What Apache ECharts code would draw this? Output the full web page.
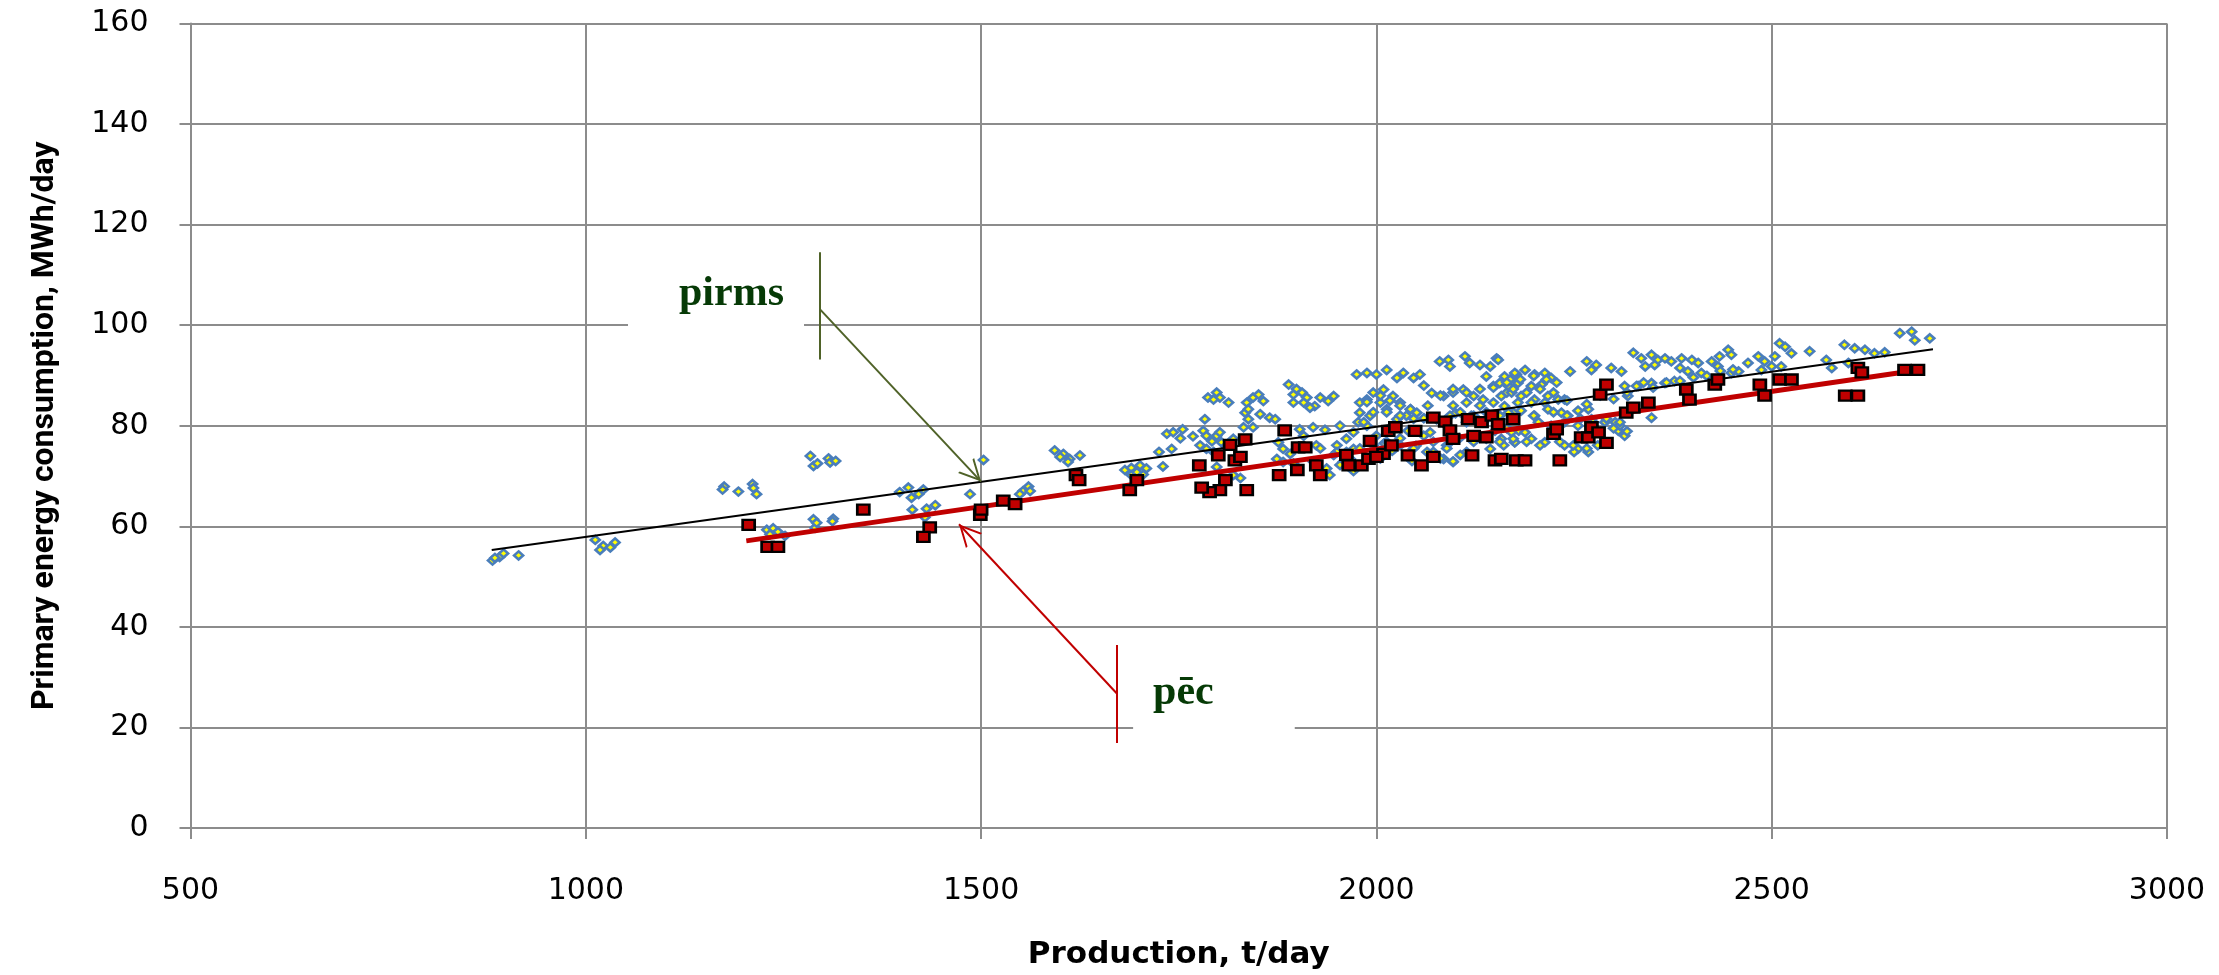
<!DOCTYPE html>
<html>
<head>
<meta charset="utf-8">
<script src="https://cdn.jsdelivr.net/npm/echarts@6/dist/echarts.min.js"></script>
<style>
html,body{margin:0;padding:0;background:#fff;}
#chart{width:2219px;height:975px;}
</style>
</head>
<body>
<div id="chart"></div>
<script>
// ---- axis settings / labels ----
const xAxisTitle = 'Production, t/day';
const yAxisTitle = 'Primary energy consumption, MWh/day';
const xRange = [500, 3000, 500];
const yRange = [0, 160, 20];

// ---- "pirms" (before) points: blue diamonds [production, consumption] ----
const pirmsPoints = [
[882,53.2],[891,53.9],[896,54.6],[915,54.2],[885,53.7],
[1012,57.3],[1022,56.1],[1018,55.3],[1031,55.8],[1037,56.8],
[1175,67.9],[1173,67.3],[1193,66.9],[1211,68.4],[1212,67.6],[1216,66.4],
[1284,74.0],[1288,72.0],[1293,72.5],[1307,73.5],[1309,72.7],[1316,73.0],
[1229,59.3],[1237,59.6],[1243,58.9],[1252,58.1],[1233,58.4],
[1288,61.4],[1290,59.7],[1292,60.7],[1313,61.5],[1312,61.0],
[1397,66.8],[1408,67.7],[1412,65.7],[1421,66.4],[1427,67.3],[1413,63.3],[1431,63.5],[1442,64.2],[1486,66.4],[1503,73.2],[1429,61.8],
[1553,67.0],[1560,67.9],[1549,66.4],[1562,67.0],
[1593,75.1],[1604,74.4],[1612,73.4],[1625,74.1],[1600,73.8],[1610,72.8],
[1682,71.2],[1690,71.6],[1701,72.1],[1709,71.5],[1705,70.3],[1690,70.2],[1730,71.9],[1697,70.8],
[1725,74.8],[1741,75.4],[1735,78.4],[1743,78.7],[1755,79.3],[1752,77.5],[1768,77.9],
[1783,81.3],[1781,79.0],[1785,78.0],[1792,76.9],[1798,78.0],[1804,76.7],[1811,76.1],[1777,76.1],[1785,75.4],[1794,74.8],[1802,78.7],[1819,77.4],
[1787,85.6],[1798,86.6],[1802,85.6],[1813,84.6],[1794,85.2],
[1836,84.6],[1844,85.6],[1851,86.2],[1857,84.9],[1834,82.6],[1838,81.3],[1832,79.7],[1844,79.7],[1853,82.3],[1865,81.6],[1872,81.3],[1838,83.3],
[1819,70.2],[1828,69.6],[1798,71.8],
[1889,88.2],[1899,87.3],[1906,86.6],[1895,86.2],[1912,85.6],[1922,83.9],[1929,85.6],[1939,84.9],[1946,85.9],[1895,84.6],[1908,84.6],[1916,83.6],
[1876,76.7],[1882,75.4],[1874,73.4],[1891,74.4],[1903,79.3],[1920,79.7],[1935,79.2],[1908,78.0],[1924,76.1],[1941,70.2],[1929,70.8],[1882,72.8],[1895,72.5],[1950,76.1],
[1975,90.2],[1988,90.5],[2000,90.2],[2013,91.1],[2026,89.5],[2034,90.5],[2047,89.5],[2055,90.2],
[1979,84.6],[1988,85.2],[1996,86.6],[2009,87.2],[2021,85.9],[2030,84.6],[2043,83.3],[2051,82.6],[1979,82.6],[1992,82.0],[2005,84.6],[2013,83.3],[1977,80.7],[1988,80.0],[2026,81.3],[2038,82.0],
[1971,78.7],[1962,77.4],[1954,80.0],[1971,75.4],[1967,73.4],[1971,71.5],[1958,72.8],[1950,74.8],
[2000,78.0],[2010,76.5],[2020,75.0],[2030,77.5],[2040,79.0],[2050,76.0],[2060,78.0],[2005,73.5],[2045,73.0],[2060,81.5],[2065,84.0],[2070,86.5],[2060,88.0],[2100,82.5],[2120,82.0],[2125,78.0],[2105,77.5],[2150,79.0],[2165,79.5],[2180,79.0],
[2080,92.8],[2091,93.1],[2093,91.8],[2112,93.8],[2118,92.5],[2131,92.1],[2144,91.8],[2152,93.4],[2139,89.8],
[2085,85.9],[2097,86.6],[2110,87.2],[2123,85.9],[2135,85.2],[2148,87.9],[2156,88.5],[2169,89.2],[2177,90.2],[2097,84.0],[2114,84.6],[2131,84.0],[2148,84.6],[2165,86.6],[2076,81.3],[2089,80.0],[2114,80.7],[2135,80.7],[2156,81.3],[2173,82.6],
[2068,78.7],[2089,76.1],[2085,73.4],[2097,72.8],[2114,74.8],[2144,75.4],[2161,76.1],[2175,76.7],[2072,74.8],
[2154,93.1],[2162,89.8],[2175,90.5],[2188,91.1],[2200,90.2],[2213,90.5],[2221,89.5],[2167,87.9],[2179,88.5],[2196,87.9],[2209,88.2],
[2158,85.9],[2171,86.6],[2183,85.9],[2200,85.2],[2217,85.9],[2230,85.2],[2238,85.2],[2162,83.9],[2179,84.6],[2196,84.6],[2213,84.6],
[2167,82.6],[2183,83.0],[2200,82.0],[2217,83.3],[2234,82.6],[2242,82.0],[2255,83.0],[2268,83.3],
[2154,80.0],[2171,78.7],[2188,78.7],[2205,80.7],[2221,80.0],[2238,80.7],[2255,80.0],[2272,81.3],[2289,80.7],[2302,80.7],[2306,79.0],[2314,78.0],
[2158,77.4],[2175,76.7],[2196,77.4],[2213,76.7],[2238,76.1],[2255,75.4],[2268,74.8],[2280,76.1],[2250,74.8],
[2245,90.8],[2266,92.8],[2278,92.1],[2272,91.1],[2297,91.5],[2310,90.8],[2325,94.5],[2335,93.4],[2348,94.1],[2356,93.1],[2365,93.4],[2340,91.8],[2352,92.1],[2373,92.8],[2386,93.4],[2399,93.1],[2384,91.5],[2394,90.8],[2407,92.5],[2411,90.5],[2424,92.8],[2434,93.8],[2445,95.1],[2449,94.1],[2432,91.8],[2449,90.5],[2458,90.8],
[2377,88.9],[2365,88.5],[2348,88.5],[2331,87.9],[2318,85.9],[2314,87.9],[2348,81.6],[2308,80.0],
[2470,92.5],[2483,93.8],[2491,92.8],[2504,93.8],[2487,91.1],[2500,91.8],[2510,96.4],[2517,95.7],[2525,94.4],[2512,91.8],[2548,94.8],[2569,93.1],[2576,91.5],
[2592,96.1],[2605,95.4],[2618,95.1],[2630,94.4],[2643,94.6],[2597,92.5],[2662,98.4],[2677,98.7],[2681,97.0],[2700,97.4],
[1920,72.9],[1937,71.5],[1954,72.2],[1971,71.0],[1929,75.5],[1946,74.2],[1962,74.8],[1979,75.5],[1996,76.1],[2013,76.8],[2030,76.1],[2047,75.5],[2064,74.8],[2081,73.5],[2097,72.9],
[1988,84.7],[2005,86.0],[2017,85.0],[2030,84.0],[2043,83.3],[1996,82.7],[2013,82.7],[2030,82.0],[2047,81.4],[1984,80.7],
[2072,76.8],[2089,75.5],[2106,74.2],[2123,76.8],[2139,77.4],[2156,76.8],[2173,77.4],[2190,76.8],[2207,76.1],[2232,76.8],[2249,76.1],[2266,75.5],[2300,79.5],[2317,78.9],
[2093,82.0],[2106,82.7],[2123,82.0],[2139,82.7],[2156,82.0],[2173,81.4],[2199,82.0],[2224,82.7],[2241,82.0],[2258,81.4],[2274,80.7],[2291,81.4],[2308,80.7],
[2081,86.0],[2097,87.3],[2114,86.6],[2131,87.3],[2148,87.6],[2165,88.6],[2182,89.2],[2199,89.9],[2215,89.2],[2228,88.6],[2173,87.3],[2190,86.6],[2207,87.3],[2224,86.6],[2241,85.0],[2266,84.3],[2283,86.0],[2300,85.3],[2317,86.6],[2329,87.9],[2338,88.6],[2350,87.6],[2367,88.6],[2384,88.9],[2401,89.6],[2418,89.9],[2435,90.9],[2451,91.2]
];

// ---- "pēc" (after) points: red squares ----
const pecPoints = [
[1206,60.3],[1230,55.9],[1243,55.9],[1351,63.3],[1435,59.8],[1427,57.9],[1499,62.3],[1500,63.3],
[1528,65.1],[1543,64.4],[1620,70.2],[1624,69.2],[1688,67.2],[1697,69.2],
[1776,72.1],[1800,74.1],[1821,73.1],[1834,77.3],[1815,76.2],[1828,73.8],[1809,69.2],[1802,67.2],[1789,66.8],[1779,67.7],[1836,67.2],
[1884,79.1],[1901,75.7],[1910,75.7],[1877,70.2],[1900,71.2],[1924,72.1],[1929,70.2],
[1965,72.1],[1981,72.1],[1962,74.2],[1990,73.4],[1992,77.0],[2009,74.4],[2015,79.0],[2024,79.7],[2000,73.8],[2019,76.1],[2040,74.1],[2049,79.0],[2057,72.1],[2072,73.8],[2072,81.6],[2087,80.8],[2093,79.1],[2097,77.4],[2116,81.3],[2121,74.1],[2133,80.7],[2146,82.0],[2150,73.1],[2158,73.4],[2173,81.3],[2177,73.1],[2139,77.7],[2123,78.0],
[2154,80.3],[2188,73.1],[2232,73.1],[2224,78.4],[2228,79.3],[2259,77.7],[2268,77.7],[2272,79.7],[2281,78.7],[2291,76.6],[2283,86.2],[2291,88.2],[2316,82.6],[2325,83.6],[2344,84.6],[2392,87.2],[2396,85.2],[2428,88.2],[2432,89.2],[2485,88.2],[2491,86.0],[2510,89.2],[2525,89.2],[2593,86.0],[2609,86.0],[2609,91.5],[2614,90.6],[2668,91.1],[2685,91.1]
];

// ---- trend lines (end points) ----
const pirmsTrend = [[881,55.3],[2704,95.2]];
const pecTrend = [[1203,57.1],[2690,91.2]];

// ---- callouts (data coordinates) ----
const pirmsCalloutBar = [[1296,114.5],[1296,93.2]];
const pirmsCalloutArrow = [[1296,103.2],[1500,68.9]];
const pecCalloutBar = [[1672,36.4],[1672,16.9]];
const pecCalloutArrow = [[1672,26.7],[1472,60.4]];
const calloutTexts = ['pirms', 'pēc'];
const calloutTextPos = [[1164.7,106.1],[1794.5,26.9]];

const GRID = '#8c8c8c';
const RED = '#c00000';
const GREEN_LINE = '#4f6228';
const GREEN_TEXT = '#063a06';
// open arrow head; tip at the centre of the (invisible) square bounding box
const arrowHead = 'path://M-50,-100 L-50,-100 Z M150,100 L150,100 Z M50,0 L100,100 L90,100 L50,20 L10,100 L0,100 Z';

const chart = echarts.init(document.getElementById('chart'), null, {renderer:'canvas'});

const axisCommon = {
  axisLine: {show:true, lineStyle:{color:GRID, width:2}},
  axisTick: {show:true, inside:false, length:11, lineStyle:{color:GRID, width:2}},
  splitLine: {show:true, lineStyle:{color:GRID, width:2}}
};

chart.setOption({
  animation:false,
  backgroundColor:'#fff',
  grid:{left:190.5, right:52, top:23.5, bottom:138, containLabel:false},
  xAxis: Object.assign({}, axisCommon, {
    type:'value', min:xRange[0], max:xRange[1], interval:xRange[2],
    name:xAxisTitle, nameLocation:'middle', nameGap:111,
    nameTextStyle:{color:'#000', fontFamily:'DejaVu Sans', fontWeight:'bold', fontSize:31},
    axisLabel:{color:'#000', fontFamily:'DejaVu Sans', fontSize:30, margin:48, formatter:function(v){return String(v);}}
  }),
  yAxis: Object.assign({}, axisCommon, {
    type:'value', min:yRange[0], max:yRange[1], interval:yRange[2],
    name:yAxisTitle, nameLocation:'middle', nameGap:130,
    nameTextStyle:{color:'#000', fontFamily:'Roboto', fontWeight:'bold', fontSize:32},
    axisLabel:{color:'#000', fontFamily:'DejaVu Sans', fontSize:30, margin:42, formatter:function(v){return String(v);}}
  }),
  series:[
    {
      name:'callout boxes', type:'scatter', symbolSize:0, silent:true, z:1,
      itemStyle:{opacity:1},
      data:[
        {value:calloutTextPos[0], label:{formatter:calloutTexts[0], padding:[13,20,22,51]}},
        {value:calloutTextPos[1], label:{formatter:calloutTexts[1], padding:[9,81,31,20]}}
      ],
      label:{show:true, position:'inside', color:GREEN_TEXT, opacity:1, fontFamily:'Liberation Serif', fontWeight:'bold',
             fontSize:42, lineHeight:50, backgroundColor:'#ffffff'}
    },
    {
      name:'pirms', type:'scatter', z:2,
      data:pirmsPoints, symbol:'diamond', symbolSize:[9,8],
      itemStyle:{color:'#ffff00', borderColor:'#4a7ebb', borderWidth:2.6, opacity:1}
    },
    {
      name:'pirms trend', type:'line', z:3, data:pirmsTrend, symbol:'none',
      lineStyle:{color:'#000', width:2}
    },
    {
      name:'pēc trend', type:'line', z:4, data:pecTrend, symbol:'none',
      lineStyle:{color:RED, width:5}
    },
    {
      name:'pēc', type:'scatter', z:5,
      data:pecPoints, symbol:'rect', symbolSize:[12,10],
      itemStyle:{color:RED, borderColor:'#000', borderWidth:2.5, opacity:1}
    },
    {
      name:'pirms callout', type:'lines', coordinateSystem:'cartesian2d', z:6, silent:true,
      symbol:['none','none'],
      lineStyle:{color:GREEN_LINE, width:2, opacity:1},
      data:[{coords:pirmsCalloutBar}]
    },
    {
      name:'pirms arrow', type:'lines', coordinateSystem:'cartesian2d', z:6, silent:true,
      symbol:['none', arrowHead], symbolSize:44,
      lineStyle:{color:GREEN_LINE, width:2, opacity:1},
      data:[{coords:pirmsCalloutArrow}]
    },
    {
      name:'pēc callout', type:'lines', coordinateSystem:'cartesian2d', z:6, silent:true,
      symbol:['none','none'],
      lineStyle:{color:RED, width:2, opacity:1},
      data:[{coords:pecCalloutBar}]
    },
    {
      name:'pēc arrow', type:'lines', coordinateSystem:'cartesian2d', z:6, silent:true,
      symbol:['none', arrowHead], symbolSize:44,
      lineStyle:{color:RED, width:2, opacity:1},
      data:[{coords:pecCalloutArrow}]
    }
  ]
});
</script>
</body>
</html>
